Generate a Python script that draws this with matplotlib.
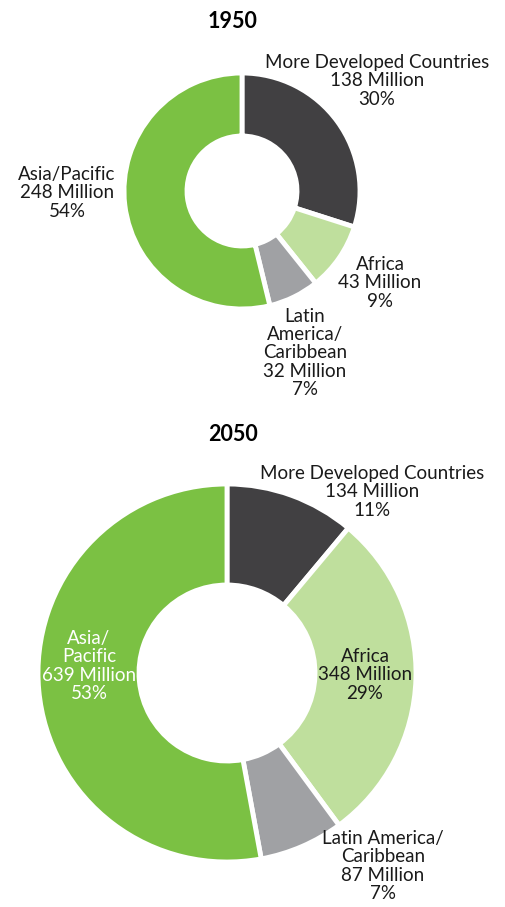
import matplotlib.pyplot as plt

# data
regions = ['More Developed Countries', 'Africa', 'Latin America/Caribbean', 'Asia/Pacific']
pop_1950 = [138, 43, 32, 248]
pct_1950 = [30, 9, 7, 54]
pop_2050 = [134, 348, 87, 639]
pct_2050 = [11, 29, 7, 53]
colors = ['#414042', '#bfdf9d', '#a0a1a4', '#7bc143']

plt.rcParams['font.family'] = ['Lato', 'DejaVu Sans']

W, H = 506, 907
fig = plt.figure(figsize=(W / 100, H / 100), dpi=100)
ax = fig.add_axes([0, 0, 1, 1])
ax.set_xlim(0, W)
ax.set_ylim(0, H)
ax.set_aspect('equal')
ax.axis('off')


def donut(values, cx, cy, r_out, r_in):
    ax.pie(values, colors=colors, startangle=90, counterclock=False,
           radius=r_out, center=(cx, cy), frame=True,
           wedgeprops=dict(width=r_out - r_in, edgecolor='white', linewidth=3.5))


def label(x, y, txt, color='#1a1a1a'):
    ax.text(x, H - y, txt, ha='center', va='center', multialignment='center',
            fontsize=13.5, color=color, linespacing=1.08)


# 1950
donut(pop_1950, 242, H - 191, 118, 55)
ax.text(233, H - 22, '1950', ha='center', va='center', fontsize=15.5, fontweight='bold')
label(377, 81, f'{regions[0]}\n{pop_1950[0]} Million\n{pct_1950[0]}%')
label(380, 283, f'Africa\n{pop_1950[1]} Million\n{pct_1950[1]}%')
label(305, 353, f'Latin\nAmerica/\nCaribbean\n{pop_1950[2]} Million\n{pct_1950[2]}%')
label(67, 193, f'Asia/Pacific\n{pop_1950[3]} Million\n{pct_1950[3]}%')

# 2050
donut(pop_2050, 227, H - 673, 189, 88)
ax.text(233, H - 435, '2050', ha='center', va='center', fontsize=15.5, fontweight='bold')
label(372, 492, f'{regions[0]}\n{pop_2050[0]} Million\n{pct_2050[0]}%')
label(365, 675, f'Africa\n{pop_2050[1]} Million\n{pct_2050[1]}%')
label(89, 666, f'Asia/\nPacific\n{pop_2050[3]} Million\n{pct_2050[3]}%', color='white')
label(383, 866, f'Latin America/\nCaribbean\n{pop_2050[2]} Million\n{pct_2050[2]}%')

ax.set_xlim(0, W)
ax.set_ylim(0, H)
fig.savefig('out.png', dpi=100)
